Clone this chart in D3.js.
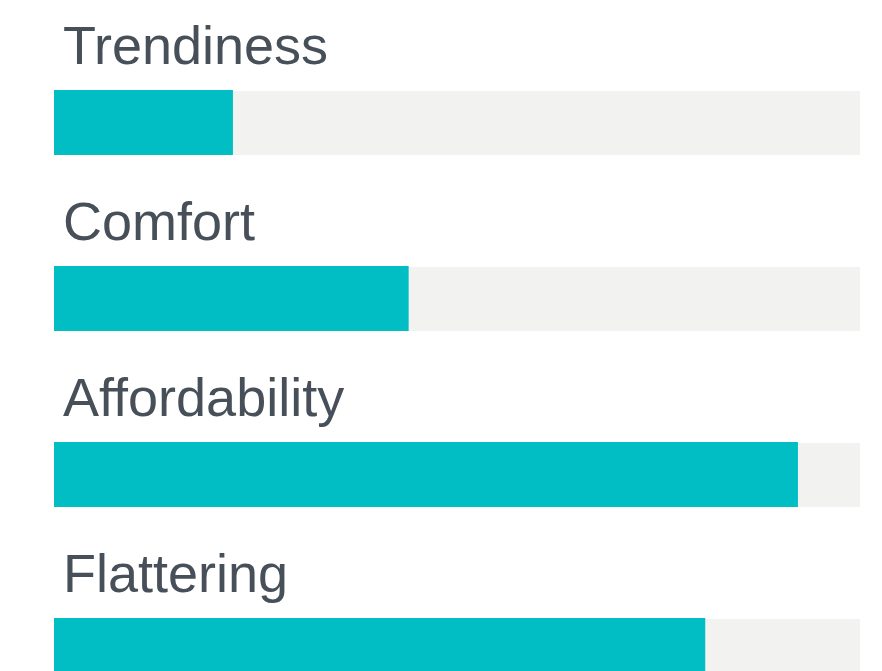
<!DOCTYPE html>
<html>
<head>
<meta charset="utf-8">
<script src="https://cdn.jsdelivr.net/npm/d3@7"></script>
<style>
  html, body { margin: 0; padding: 0; background: #fff; }
  .label { font-family: 'Liberation Sans', Arial, sans-serif; font-size: 54px; fill: #474f59; }
</style>
</head>
<body>
<div id="chart"></div>
<script>
'use strict';
const categories = ['Trendiness', 'Comfort', 'Affordability', 'Flattering']
const values = [22.2, 44, 92.3, 80.8]
const maxValue = 100

const width = 882
const height = 671
const rowStep = 176
const barTop = 90 // first bar's top edge
const barHeight = 65

const svg = d3.select('#chart').append('svg')
    .attr('width', width)
    .attr('height', height)

const x = d3.scaleLinear()
    .domain([0, maxValue])
    .range([54, 860])

const y = d3.scaleBand()
    .domain(categories)
    .range([barTop, barTop + rowStep * categories.length])
    .paddingInner(0)

const rows = svg.selectAll('g.row')
    .data(categories.map((c, i) => ({ name: c, value: values[i] })))
    .enter().append('g')
    .attr('class', 'row')
    .attr('transform', d => `translate(0, ${y(d.name)})`)

rows.append('rect') // background track
    .attr('x', x(0))
    .attr('y', 1)
    .attr('width', x(maxValue) - x(0))
    .attr('height', barHeight - 1)
    .attr('fill', '#f2f2f0')

rows.append('rect') // value bar
    .attr('x', x(0))
    .attr('y', 0)
    .attr('width', d => x(d.value) - x(0))
    .attr('height', barHeight)
    .attr('fill', '#00bec4')

rows.append('text') // category label above bar
    .attr('class', 'label')
    .attr('x', 63)
    .attr('y', -26)
    .text(d => d.name)
</script>
</body>
</html>
